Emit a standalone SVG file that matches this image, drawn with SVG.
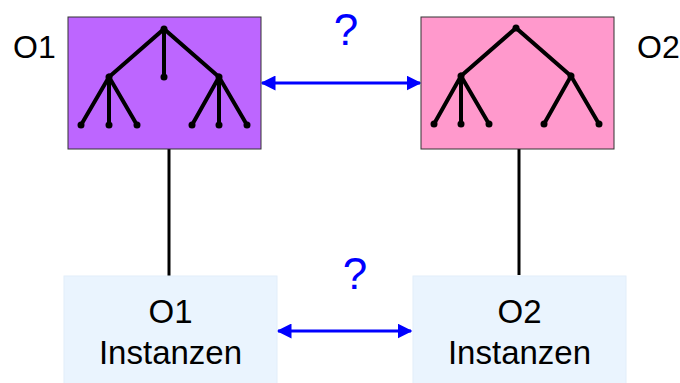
<svg xmlns="http://www.w3.org/2000/svg" width="680" height="383" viewBox="0 0 680 383">
<defs>
<style>
.lbl{font-family:"Liberation Sans",Arial,sans-serif;fill:#000;}
.q{font-family:"Liberation Sans",Arial,sans-serif;fill:#0000FF;font-size:44px;text-anchor:middle;}
.tree{stroke:#000;stroke-width:4;stroke-linecap:round;fill:none;}
.dot{fill:#000;}
.inst{fill:#EAF4FE;stroke:#E2EEFA;stroke-width:1;}
.conn{stroke:#000;stroke-width:3;}
.arr{stroke:#0000FF;stroke-width:3;marker-start:url(#ah);marker-end:url(#ah);}
</style>
<marker id="ah" viewBox="0 0 10 10" refX="9" refY="5" markerWidth="5" markerHeight="5" orient="auto-start-reverse" markerUnits="strokeWidth">
<path d="M0,0 L10,5 L0,10 z" fill="#0000FF"/>
</marker>
</defs>
<rect width="680" height="383" fill="#fff"/>

<g id="connectors">
<line class="conn" x1="169" y1="149" x2="169" y2="276"/>
<line class="conn" x1="519" y1="149" x2="519" y2="275"/>
<line class="arr" x1="262" y1="83" x2="420" y2="83"/>
<line class="arr" x1="278" y1="331" x2="411" y2="331"/>
</g>

<g id="q1"><text class="q" x="346" y="45">?</text></g>
<g id="q2"><text class="q" x="355" y="289">?</text></g>

<g id="O1">
<rect x="68" y="17" width="193" height="132" fill="#BD66FF" stroke="#333" stroke-width="1"/>
<g class="tree">
<path d="M109,77 L164,29 L219,77 M164,29 L164,77 M81,125 L109,77 L137,125 M109,77 L109,125 M192,125 L219,77 L247,125 M219,77 L219,125"/>
</g>
<g class="dot">
<circle cx="164" cy="29" r="3.5"/><circle cx="164" cy="77" r="3.5"/>
<circle cx="109" cy="77" r="3.5"/><circle cx="219" cy="77" r="3.5"/>
<circle cx="81" cy="125" r="3.5"/><circle cx="109" cy="125" r="3.5"/><circle cx="137" cy="125" r="3.5"/>
<circle cx="192" cy="125" r="3.5"/><circle cx="219" cy="125" r="3.5"/><circle cx="247" cy="125" r="3.5"/>
</g>
<text class="lbl" x="13" y="58" font-size="32">O1</text>
</g>

<g id="O2">
<rect x="421" y="17" width="193" height="132" fill="#FF99CC" stroke="#333" stroke-width="1"/>
<g class="tree">
<path d="M461,76 L516,28 L571,76 M434,124 L461,76 L489,124 M461,76 L461,124 M544,124 L571,76 L599,124"/>
</g>
<g class="dot">
<circle cx="516" cy="28" r="3.5"/>
<circle cx="461" cy="76" r="3.5"/><circle cx="571" cy="76" r="3.5"/>
<circle cx="434" cy="124" r="3.5"/><circle cx="461" cy="124" r="3.5"/><circle cx="489" cy="124" r="3.5"/>
<circle cx="544" cy="124" r="3.5"/><circle cx="599" cy="124" r="3.5"/>
</g>
<text class="lbl" x="637" y="58" font-size="32">O2</text>
</g>

<g id="O1Instanzen">
<rect class="inst" x="64" y="276" width="213" height="110"/>
<text class="lbl" x="170.5" y="323" font-size="33" text-anchor="middle">O1</text>
<text class="lbl" x="170.5" y="364" font-size="33" text-anchor="middle">Instanzen</text>
</g>

<g id="O2Instanzen">
<rect class="inst" x="413" y="276" width="213" height="110"/>
<text class="lbl" x="519.5" y="323" font-size="33" text-anchor="middle">O2</text>
<text class="lbl" x="519.5" y="364" font-size="33" text-anchor="middle">Instanzen</text>
</g>
</svg>
